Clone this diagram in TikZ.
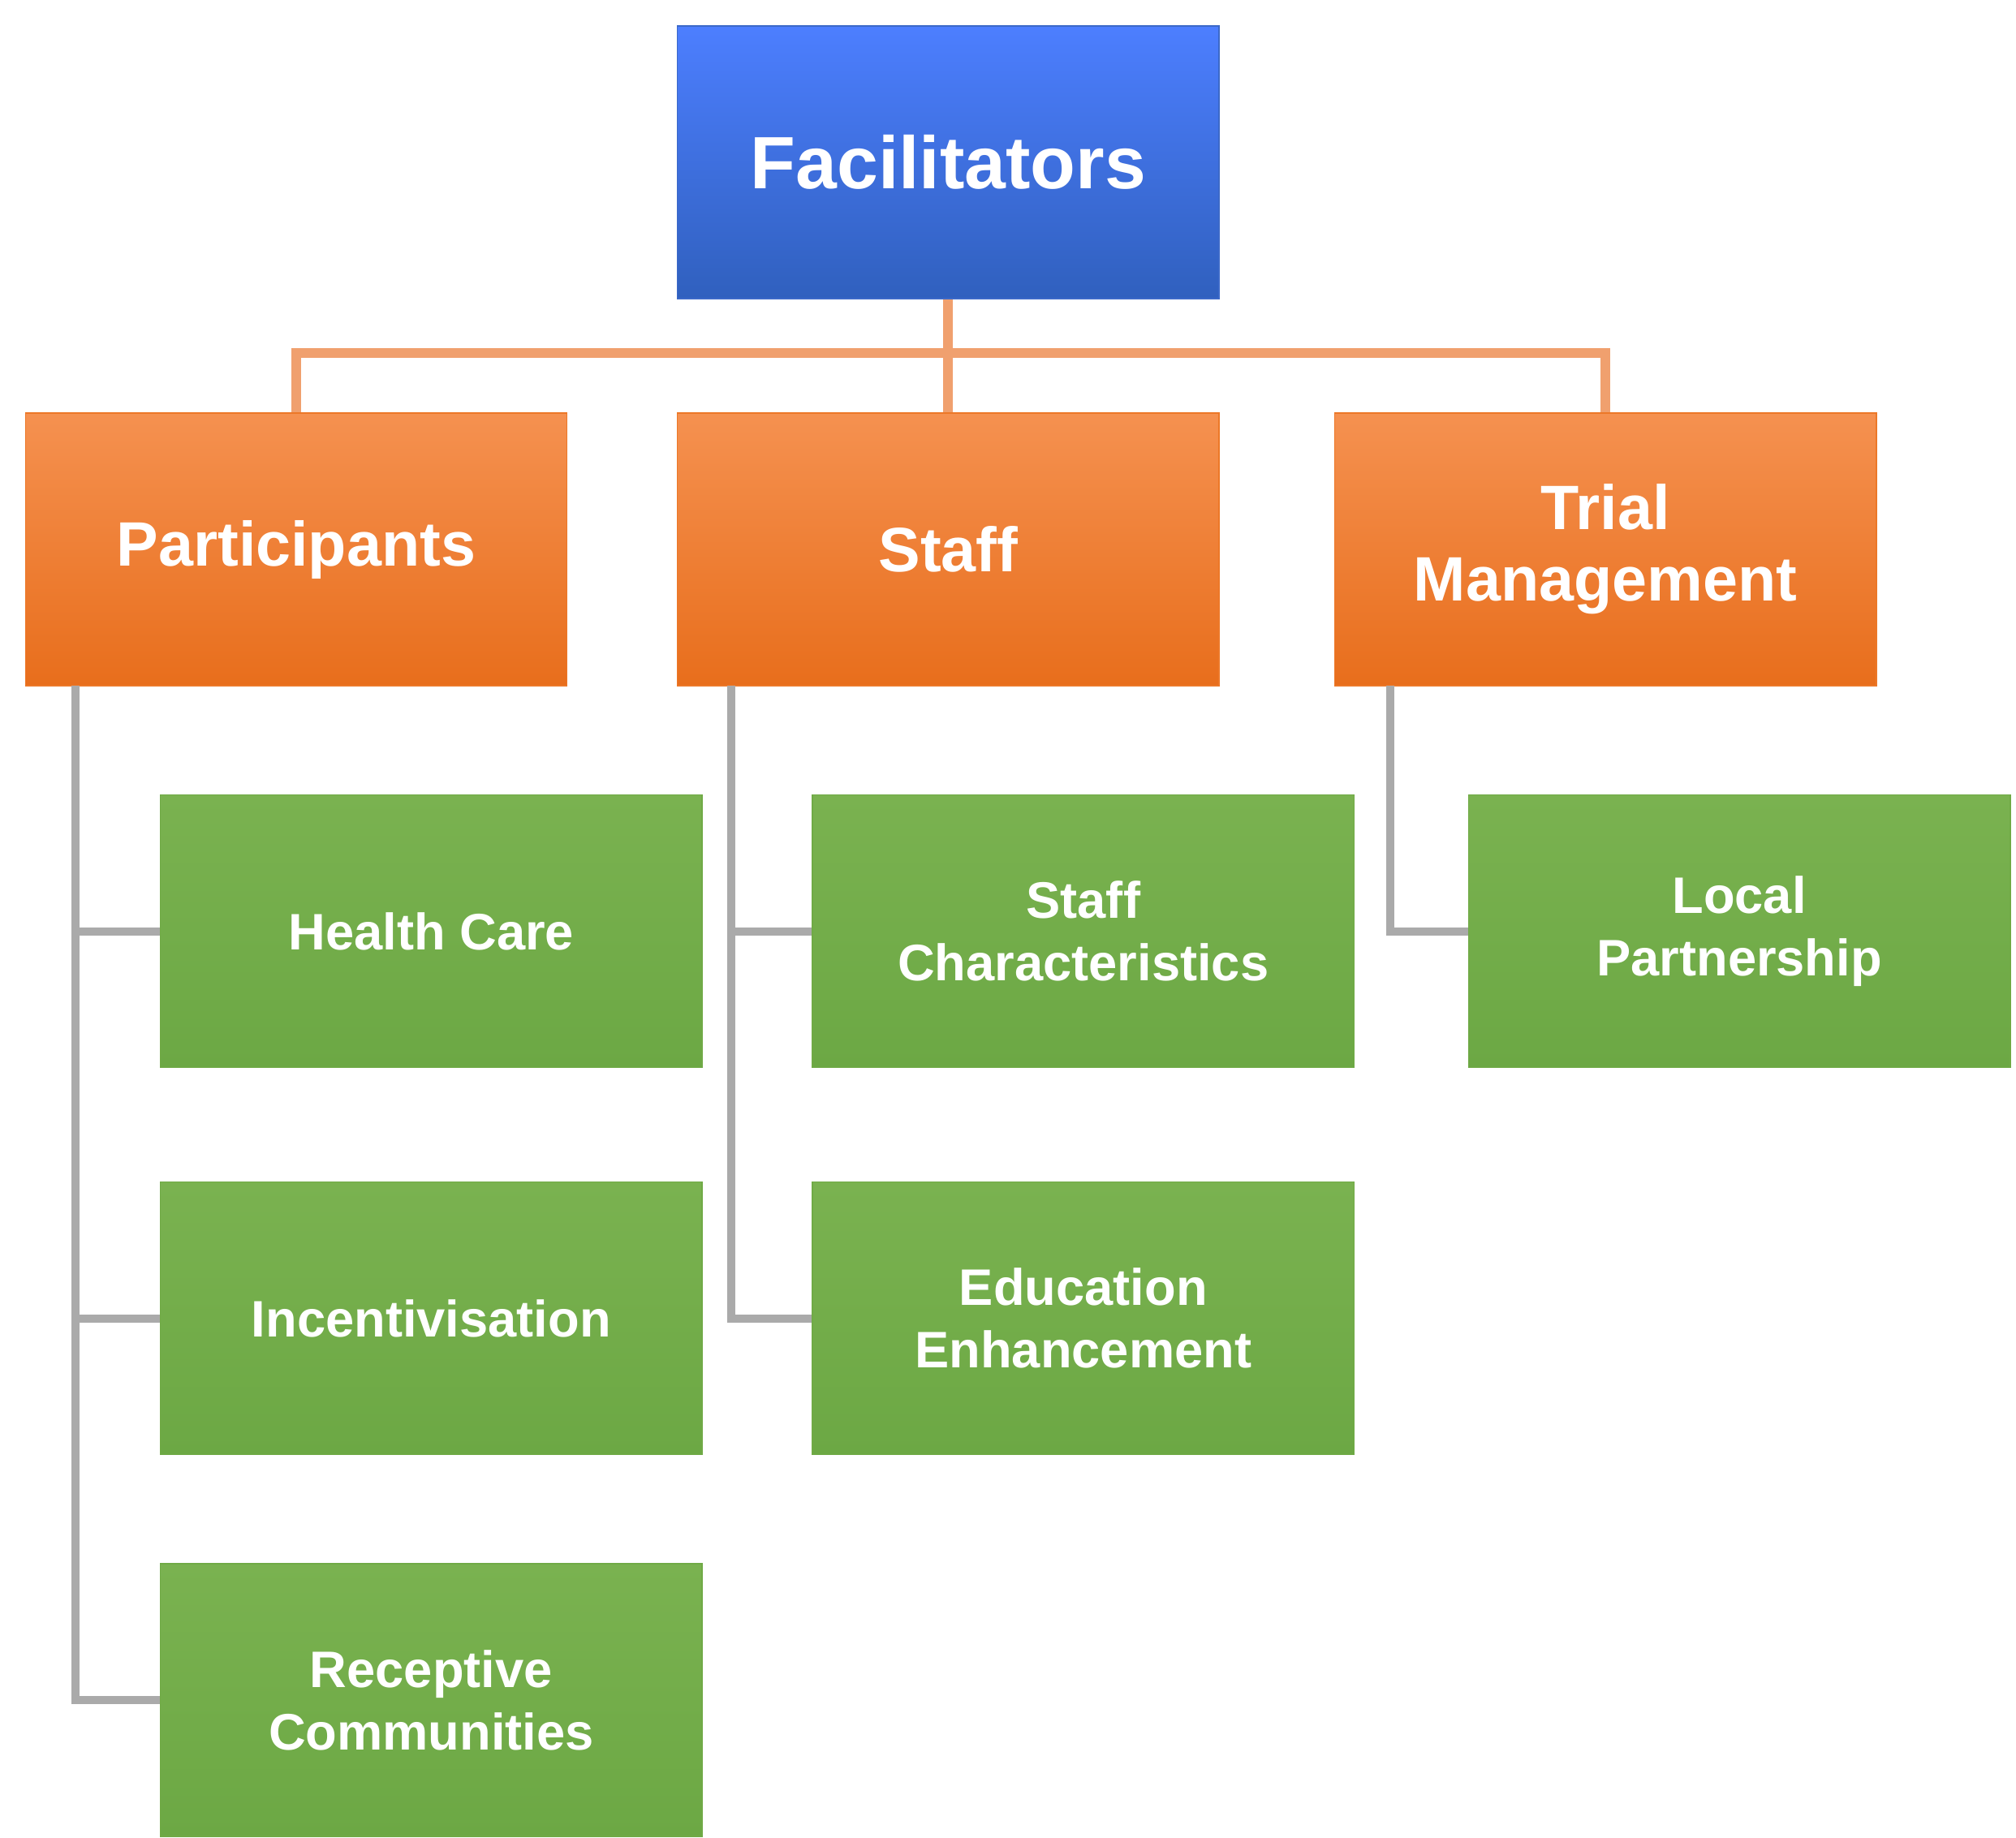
\documentclass[tikz,border=0pt]{standalone}
\usepackage{fontspec}
\setmainfont{Liberation Sans}
\begin{document}
\begin{tikzpicture}[x=0.016cm,y=-0.016cm,
 box/.style={minimum width=417*0.016cm,minimum height=210*0.016cm,inner sep=0pt,align=center,text=white,font=\bfseries},
 blue/.style={box,top color=blue!30!cyan!40!blue!70!white,bottom color={rgb,255:red,48;green,96;blue,190},draw={rgb,255:red,60;green,105;blue,200},font=\bfseries\fontsize{26}{30}\selectfont},
 org/.style={box,top color={rgb,255:red,245;green,145;blue,80},bottom color={rgb,255:red,232;green,110;blue,28},draw={rgb,255:red,236;green,120;blue,40},font=\bfseries\fontsize{22}{25}\selectfont},
 grn/.style={box,top color={rgb,255:red,122;green,178;blue,80},bottom color={rgb,255:red,108;green,168;blue,68},draw={rgb,255:red,112;green,170;blue,70},font=\bfseries\fontsize{18}{22}\selectfont},
 oline/.style={draw={rgb,255:red,240;green,160;blue,110},line width=1.2mm},
 gline/.style={draw={rgb,255:red,170;green,170;blue,170},line width=1mm}]
\useasboundingbox (0,0) rectangle (1552,1415);
\node[blue] (f) at (730,125) {Facilitators};
\node[org] (p) at (228,423) {Participants};
\node[org] (s) at (730,423) {Staff};
\node[org] (t) at (1236,423) {Trial\\Management};
\node[grn] (hc) at (332,717) {Health Care};
\node[grn] (in) at (332,1015) {Incentivisation};
\node[grn] (rc) at (332,1309) {Receptive\\Communities};
\node[grn] (sc) at (834,717) {Staff\\Characteristics};
\node[grn] (ee) at (834,1015) {Education\\Enhancement};
\node[grn] (lp) at (1339,717) {Local\\Partnership};
\coordinate (j) at (730,272);
\draw[oline] (f.south) -- (j) -- (s.north);
\draw[oline] (j) -| (p.north);
\draw[oline] (j) -| (t.north);
\draw[gline] (58,528) |- (rc.west);
\draw[gline] (58,717) -- (hc.west);
\draw[gline] (58,1015) -- (in.west);
\draw[gline] (563,528) |- (ee.west);
\draw[gline] (563,717) -- (sc.west);
\draw[gline] (1070,528) |- (lp.west);
\end{tikzpicture}
\end{document}
